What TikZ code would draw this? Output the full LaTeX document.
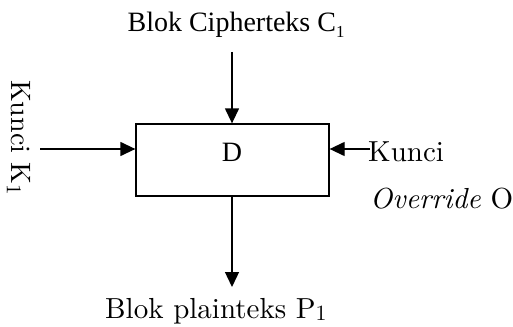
\documentclass[tikz,border=0pt]{standalone}
\usepackage{fontspec}
\setmainfont{Latin Modern Roman}
\newfontfamily\timesf{Liberation Serif}
\newfontfamily\lmten{lmroman10-regular.otf}[ItalicFont=lmroman10-italic.otf]
\usetikzlibrary{arrows.meta}
\newcommand\subx[3][0.65]{\raisebox{#2}{\scalebox{#1}{#3}}}
\begin{document}
\begin{tikzpicture}[x=1pt,y=-1pt,
  conn/.style={line width=1.3pt,-{Triangle[length=15pt,width=14pt]}},
  boxst/.style={draw,line width=1.3pt,minimum width=193pt,minimum height=72pt,inner sep=0pt},
  tlbl/.style={inner sep=0pt,font=\timesf\fontsize{28}{32}\selectfont},
  clbl/.style={inner sep=0pt,font=\lmten\fontsize{29}{33}\selectfont}]
\useasboundingbox (0,0) rectangle (513,326);
\node[boxst] (box) at (232.5,160) {};
\node[tlbl,anchor=base] (d) at (232,161.5) {D};
\node[tlbl,anchor=base] (ctext) at (236,32) {Blok Cipherteks C\subx[0.6]{-0.18em}{1}};
\coordinate (ctop) at (232,52);
\draw[conn] (ctop) -- (ctop |- box.north);
\coordinate (kleft) at (40,149);
\draw[conn] (kleft) -- (kleft -| box.west);
\node[clbl,rotate=-90,anchor=base west,font=\lmten\fontsize{28}{32}\selectfont] (ktext) at (12,80) {Kunci K\subx[0.75]{-0.18em}{1}};
\coordinate (kright) at (370,149);
\draw[conn] (kright) -- (kright -| box.east);
\node[clbl,anchor=base west] (otext1) at (368,161) {Kunci};
\node[clbl,anchor=base west] (otext2) at (370,208) {\textit{Override} O};
\coordinate (pbot) at (232,287);
\draw[conn] (box.south -| pbot) -- (pbot);
\node[clbl,anchor=base west] (ptext) at (105,318.5) {Blok plainteks P\subx[0.75]{-0.08em}{1}};
\end{tikzpicture}
\end{document}
